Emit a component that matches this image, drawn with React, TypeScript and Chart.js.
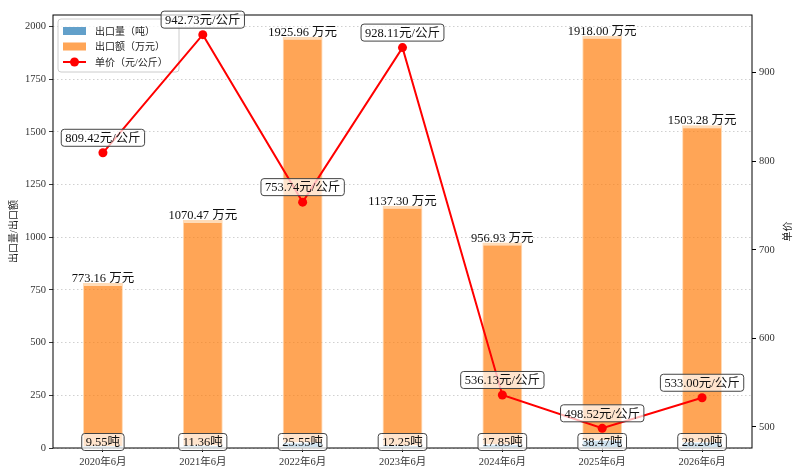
import React, { useEffect, useRef } from "react"
import { Chart, ChartConfiguration, Plugin, registerables } from "chart.js"

Chart.register(...registerables)

// data
const months = ["2020年6月", "2021年6月", "2022年6月", "2023年6月", "2024年6月", "2025年6月", "2026年6月"]
const volumes = [9.55, 11.36, 25.55, 12.25, 17.85, 38.47, 28.2] // 吨
const amounts = [773.16, 1070.47, 1925.96, 1137.3, 956.93, 1918.0, 1503.28] // 万元
const prices = [809.42, 942.73, 753.74, 928.11, 536.13, 498.52, 533.0] // 元/公斤
const leftTicks = [0, 250, 500, 750, 1000, 1250, 1500, 1750, 2000]
const rightTicks = [500, 600, 700, 800, 900]

const FONT = '"Liberation Serif", "Noto Sans CJK SC", serif'
const BLUE = "rgba(31,119,180,0.7)"
const ORANGE = "rgba(255,127,14,0.7)"

function box(ctx: CanvasRenderingContext2D, text: string, cx: number, cy: number) {
	ctx.save()
	ctx.font = `12.5px ${FONT}`
	const w = ctx.measureText(text).width + 8
	const h = 17
	ctx.beginPath()
	ctx.roundRect(cx - w / 2, cy - h / 2, w, h, 3)
	ctx.fillStyle = "rgba(255,255,255,0.7)"
	ctx.fill()
	ctx.lineWidth = 1
	ctx.strokeStyle = "#444"
	ctx.stroke()
	ctx.fillStyle = "#111"
	ctx.textAlign = "center"
	ctx.textBaseline = "middle"
	ctx.fillText(text, cx, cy + 1)
	ctx.restore()
}

function drawLegend(ctx: CanvasRenderingContext2D, lx: number, ly: number) {
	ctx.save()
	ctx.beginPath()
	ctx.roundRect(lx, ly, 121, 53, 3)
	ctx.fillStyle = "rgba(255,255,255,0.8)"
	ctx.fill()
	ctx.lineWidth = 1
	ctx.strokeStyle = "#cccccc"
	ctx.stroke()
	const rows = [
		{ text: "出口量（吨）", kind: "blue" },
		{ text: "出口额（万元）", kind: "orange" },
		{ text: "单价（元/公斤）", kind: "line" },
	]
	rows.forEach((r, i) => {
		const y = ly + 12 + i * 15.5
		if (r.kind === "line") {
			ctx.strokeStyle = "red"
			ctx.lineWidth = 2
			ctx.beginPath()
			ctx.moveTo(lx + 5, y)
			ctx.lineTo(lx + 28, y)
			ctx.stroke()
			ctx.fillStyle = "red"
			ctx.beginPath()
			ctx.arc(lx + 16.5, y, 4.5, 0, Math.PI * 2)
			ctx.fill()
		} else {
			ctx.fillStyle = r.kind === "blue" ? BLUE : ORANGE
			ctx.fillRect(lx + 5, y - 4, 23, 8)
		}
		ctx.fillStyle = "#222"
		ctx.textAlign = "left"
		ctx.textBaseline = "middle"
		ctx.font = `10px ${FONT}`
		ctx.fillText(r.text, lx + 37, y + 1)
	})
	ctx.restore()
}

const labelPlugin: Plugin = {
	id: "labels",
	// bars are drawn orange first, then blue (index 0): label after the last bar set
	afterDatasetDraw(chart, args) {
		if (args.index !== 0) return
		const ctx = chart.ctx
		const a = chart.chartArea
		ctx.save()
		ctx.strokeStyle = "#000"
		ctx.lineWidth = 1
		ctx.strokeRect(a.left, a.top, a.right - a.left, a.bottom - a.top)
		ctx.restore()
		const meta = chart.getDatasetMeta(1)
		meta.data.forEach((bar: any, i) => {
			ctx.save()
			ctx.font = `12.5px ${FONT}`
			ctx.fillStyle = "#111"
			ctx.textAlign = "center"
			ctx.textBaseline = "bottom"
			ctx.fillText(`${amounts[i].toFixed(2)} 万元`, bar.x, bar.y + 2)
			ctx.restore()
			box(ctx, `${volumes[i].toFixed(2)}吨`, bar.x, a.bottom - 6)
		})
		drawLegend(ctx, a.left + 5, a.top + 4)
	},
	afterDatasetsDraw(chart) {
		const meta = chart.getDatasetMeta(2)
		meta.data.forEach((pt: any, i) => {
			box(chart.ctx, `${prices[i].toFixed(2)}元/公斤`, pt.x, pt.y - 15)
		})
	},
	afterDraw(chart) {
		const ctx = chart.ctx
		const a = chart.chartArea
		ctx.save()
		ctx.font = `10px ${FONT}`
		ctx.fillStyle = "#222"
		ctx.textAlign = "center"
		ctx.textBaseline = "middle"
		const midY = (a.top + a.bottom) / 2
		ctx.save()
		ctx.translate(14, midY)
		ctx.rotate(-Math.PI / 2)
		ctx.fillText("出口量/出口额", 0, 0)
		ctx.restore()
		ctx.save()
		ctx.translate(788, midY)
		ctx.rotate(-Math.PI / 2)
		ctx.fillText("单价", 0, 0)
		ctx.restore()
		ctx.restore()
	},
}

export default function App() {
	const chartRef = useRef<HTMLCanvasElement | null>(null)
	const chartInstance = useRef<Chart | null>(null)

	useEffect(() => {
		if (chartInstance.current) chartInstance.current.destroy()
		if (!chartRef.current) return
		const ctx = chartRef.current.getContext("2d")
		if (!ctx) return

		const tickFont = { family: FONT, size: 10.5 }
		const plain = (v: any) => String(v)

		const config: ChartConfiguration = {
			type: "bar",
			data: {
				labels: months,
				datasets: [
					{
						label: "出口量（吨）",
						data: volumes,
						backgroundColor: BLUE,
						borderColor: "rgba(220,235,245,0.9)",
						borderWidth: { top: 1, left: 1, right: 1 },
						stack: "s",
						yAxisID: "y",
						order: 2,
						barPercentage: 0.4,
						categoryPercentage: 1,
					},
					{
						label: "出口额（万元）",
						data: amounts,
						backgroundColor: ORANGE,
						borderColor: "#ffdcb8",
						borderWidth: { top: 3, left: 1, right: 1 },
						stack: "s",
						yAxisID: "y",
						order: 2,
						barPercentage: 0.4,
						categoryPercentage: 1,
					},
					{
						type: "line",
						label: "单价（元/公斤）",
						data: prices,
						borderColor: "red",
						backgroundColor: "red",
						borderWidth: 2,
						pointRadius: 4.5,
						pointBorderWidth: 0,
						yAxisID: "y1",
						order: 1,
						tension: 0,
					} as any,
				],
			},
			options: {
				animation: false,
				responsive: true,
				maintainAspectRatio: false,
				layout: { padding: { top: 15, left: 0, right: 0, bottom: 0 } },
				plugins: {
					legend: { display: false },
					tooltip: { enabled: false },
				},
				scales: {
					x: {
						stacked: true,
						offset: true,
						grid: { drawOnChartArea: false, tickLength: 4, tickColor: "#000", offset: false },
						border: { display: false },
						ticks: { font: tickFont, color: "#333", padding: 4, maxRotation: 0 },
						afterFit: (s: any) => {
							s.height = 27
						},
					},
					y: {
						position: "left",
						stacked: true,
						min: 0,
						max: 2055,
						grid: { color: "#c4c4c4", lineWidth: 0.8, tickLength: 4, tickColor: "#000" },
						border: { display: false, dash: [1.5, 2.5] },
						ticks: { font: tickFont, color: "#333", padding: 3, callback: plain },
						afterBuildTicks: (s: any) => {
							s.ticks = leftTicks.map((v) => ({ value: v }))
						},
						afterFit: (s: any) => {
							s.width = 53
						},
					},
					y1: {
						position: "right",
						min: 476.3,
						max: 964.9,
						grid: { drawOnChartArea: false, tickLength: 4, tickColor: "#000" },
						border: { display: false },
						ticks: { font: tickFont, color: "#333", padding: 3, callback: plain },
						afterBuildTicks: (s: any) => {
							s.ticks = rightTicks.map((v) => ({ value: v }))
						},
						afterFit: (s: any) => {
							s.width = 48
						},
					},
				},
			},
			plugins: [labelPlugin],
		}

		chartInstance.current = new Chart(ctx, config)

		return () => {
			if (chartInstance.current) {
				chartInstance.current.destroy()
				chartInstance.current = null
			}
		}
	}, [])

	return (
		<div style={{ position: "absolute", left: 0, top: 0, width: 800, height: 475, background: "#fff" }}>
			<canvas ref={chartRef}></canvas>
		</div>
	)
}
